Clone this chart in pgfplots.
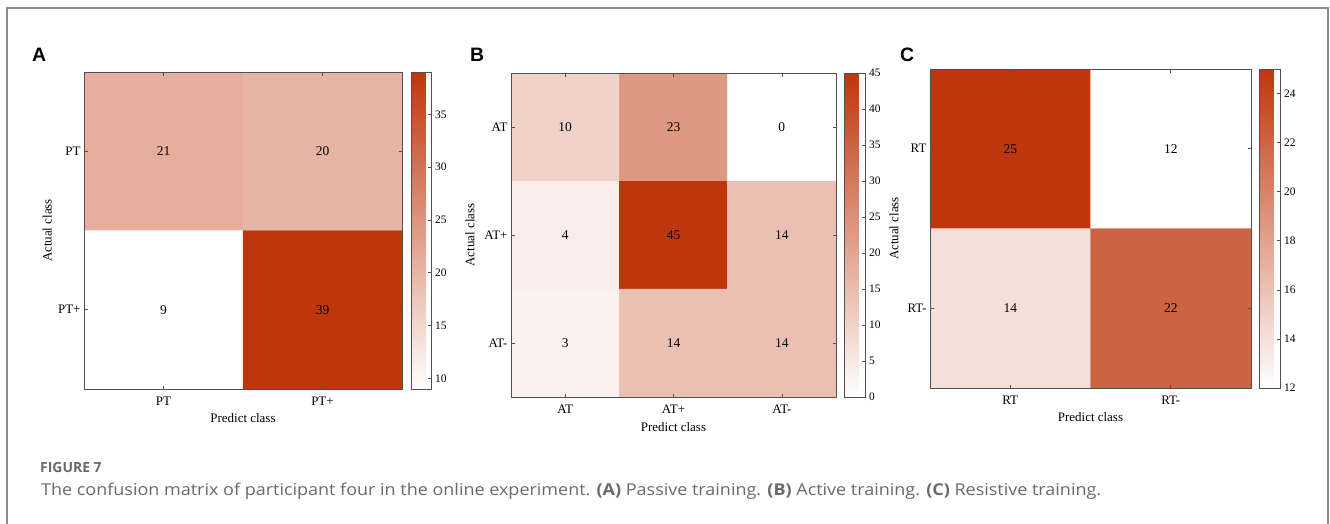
\documentclass[border=0pt]{standalone}
\usepackage{fontspec}
\setmainfont{Liberation Serif}
\newfontfamily\panelfont{Liberation Sans}
\newfontfamily\capfont{Open Sans}
\newfontfamily\capfontw[FakeStretch=1.1]{Open Sans}
\usepackage{pgfplots}
\pgfplotsset{compat=1.18}
\definecolor{cmred}{RGB}{191,54,12}
\definecolor{axgray}{RGB}{80,80,80}
\definecolor{capgray}{RGB}{105,105,105}

\pgfplotsset{
  cm/.style={
    scale only axis,
    anchor=north west,
    axis on top,
    enlargelimits=false,
    axis line style={axgray, line width=0.9bp},
    y dir=reverse,
    tick align=inside,
    major tick length=3.5bp,
    tick style={axgray, line width=0.6bp},
    tick label style={font=\fontsize{13}{15}\selectfont},
    xticklabel style={yshift=-4bp},
    label style={font=\fontsize{13}{15}\selectfont},
    colormap={redmap}{rgb255=(255,255,255) rgb255=(191,54,12)},
    colorbar,
    colorbar style={
      at={(parent axis.north east)}, anchor=north west,
      scale only axis, width=20bp,
      ytick pos=right, tick align=inside,
      major tick length=3.5bp,
      yticklabel style={font=\fontsize{11.5}{13}\selectfont},
      /pgf/number format/assume math mode=true,
      axis line style={axgray, line width=0.7bp},
      tick style={axgray, line width=0.6bp},
    },
    xlabel=Predict class, ylabel=Actual class,
    xlabel style={at={(axis description cs:0.5,-0.091)}, anchor=center},
    nodes near coords={\pgfmathprintnumber\pgfplotspointmeta},
    every node near coord/.append style={anchor=center, black, font=\fontsize{13.5}{15}\selectfont},
    /pgf/number format/assume math mode=true,
  }
}

\pgfplotstableread{
x y c
0 0 21
1 0 20
0 1 9
1 1 39
}\dataA
\pgfplotstableread{
x y c
0 0 10
1 0 23
2 0 0
0 1 4
1 1 45
2 1 14
0 2 3
1 2 14
2 2 14
}\dataB
\pgfplotstableread{
x y c
0 0 25
1 0 12
0 1 14
1 1 22
}\dataC

\begin{document}
\begin{tikzpicture}
\useasboundingbox (0,0) rectangle (1330bp,-524bp);
\draw[color={rgb,255:red,140;green,140;blue,140}, line width=1.3bp] (7bp,-540bp) -- (7bp,-8bp) -- (1328bp,-8bp) -- (1328bp,-540bp);

% Panel A
\begin{axis}[cm,
  at={(84bp,-72bp)}, width=318bp, height=317bp,
  xmin=-0.5, xmax=1.5, ymin=-0.5, ymax=1.5,
  xtick={0,1}, xticklabels={PT,PT+},
  ytick={0,1}, yticklabels={PT,PT+},
  point meta min=9, point meta max=39,
  colorbar style={xshift=1bp, ytick={10,15,20,25,30,35}},
  ylabel style={at={(axis description cs:-0.116,0.5)}, anchor=center},
]
\addplot[matrix plot*, mesh/cols=2, point meta=explicit] table[x=x, y=y, meta=c] {\dataA};
\end{axis}

% Panel B
\begin{axis}[cm,
  at={(511bp,-73bp)}, width=325bp, height=324bp,
  xmin=-0.5, xmax=2.5, ymin=-0.5, ymax=2.5,
  xtick={0,1,2}, xticklabels={AT,AT+,AT-},
  ytick={0,1,2}, yticklabels={AT,AT+,AT-},
  point meta min=0, point meta max=45,
  colorbar style={xshift=0bp, width=21bp, ytick={0,5,10,15,20,25,30,35,40,45}},
  ylabel style={at={(axis description cs:-0.126,0.5)}, anchor=center},
  xlabel style={at={(axis description cs:0.5,-0.093)}},
]
\addplot[matrix plot*, mesh/cols=3, point meta=explicit] table[x=x, y=y, meta=c] {\dataB};
\end{axis}

% Panel C
\begin{axis}[cm,
  at={(930bp,-69bp)}, width=321bp, height=319bp,
  xmin=-0.5, xmax=1.5, ymin=-0.5, ymax=1.5,
  xtick={0,1}, xticklabels={RT,RT-},
  ytick={0,1}, yticklabels={RT,RT-},
  point meta min=12, point meta max=25,
  colorbar style={xshift=0bp, width=21bp, ytick={12,14,16,18,20,22,24}},
  ylabel style={at={(axis description cs:-0.112,0.5)}, anchor=center},
]
\addplot[matrix plot*, mesh/cols=2, point meta=explicit] table[x=x, y=y, meta=c] {\dataC};
\end{axis}

% panel letters
\node[anchor=base west, inner sep=0pt, font=\panelfont\bfseries\fontsize{19.5}{22}\selectfont] at (32bp,-61bp) {A};
\node[anchor=base west, inner sep=0pt, font=\panelfont\bfseries\fontsize{19.5}{22}\selectfont] at (470bp,-61bp) {B};
\node[anchor=base west, inner sep=0pt, font=\panelfont\bfseries\fontsize{19.5}{22}\selectfont] at (900bp,-61bp) {C};

% caption
\node[anchor=base west, inner sep=0pt, text=capgray, font=\capfont\bfseries\fontsize{14}{16}\selectfont] at (40bp,-472bp) {FIGURE 7};
\node[anchor=base west, inner sep=0pt, text=capgray, font=\capfontw\fontsize{16.4}{19}\selectfont] at (41bp,-495bp) {The confusion matrix of participant four in the online experiment. \textbf{(A)} Passive training. \textbf{(B)} Active training. \textbf{(C)} Resistive training.};
\end{tikzpicture}
\end{document}
